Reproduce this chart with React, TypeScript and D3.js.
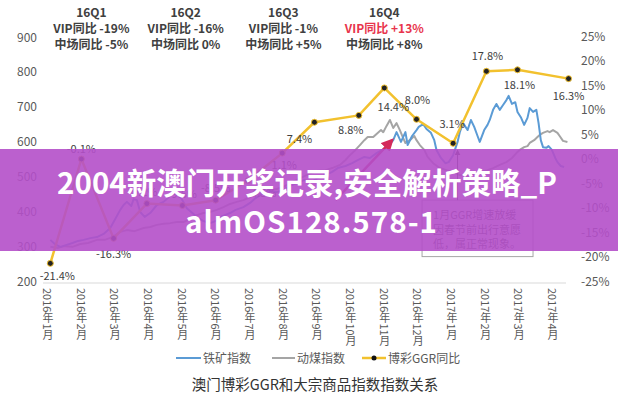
import React from "react";
import * as d3 from "d3";

// ---------- DATA ----------
const monthLabels = [
  "2016年1月", "2016年2月", "2016年3月", "2016年4月", "2016年5月", "2016年6月",
  "2016年7月", "2016年8月", "2016年9月", "2016年10月", "2016年11月", "2016年12月",
  "2017年1月", "2017年2月", "2017年3月", "2017年4月",
];
const leftTicks = [200, 300, 400, 500, 600, 700, 800, 900];
const rightTicks = [-25, -20, -15, -10, -5, 0, 5, 10, 15, 20, 25];

// 博彩GGR同比 (%), plotted at these dates
const ggrDates = [
  "2016-01-04", "2016-02-01", "2016-03-01", "2016-03-31", "2016-05-02", "2016-06-01",
  "2016-06-30", "2016-07-31", "2016-08-29", "2016-10-08", "2016-10-31", "2016-11-29",
  "2017-01-01", "2017-01-31", "2017-02-28", "2017-04-15",
];
const ggrValues = [-21.4, -0.1, -16.3, -9.2, -9.6, -8.5, -4.5, 1.1, 7.4, 8.8, 14.4, 8.0, 3.1, 17.8, 18.1, 16.3];

// 铁矿指数: [days since 2016-01-01, index]
const ironOre: [number, number][] = [
  [3,318],[7,306],[12,298],[17,303],[23,309],[28,315],[33,318],[39,323],[45,326],[51,335],
  [57,352],[61,375],[66,404],[69,418],[72,427],[76,415],[78,435],[81,432],[84,398],[88,384],
  [93,395],[99,418],[105,427],[111,444],[115,461],[118,452],[122,432],[126,409],[131,395],[136,381],
  [141,372],[147,366],[152,372],[158,386],[165,395],[170,404],[177,412],[183,424],[188,438],[195,452],
  [201,458],[207,455],[213,461],[219,473],[225,481],[232,490],[238,484],[244,495],[251,504],[257,513],
  [262,524],[269,530],[275,538],[280,547],[286,556],[291,553],[297,567],[302,576],[307,584],[312,604],
  [315,627],[319,599],[323,627],[325,590],[329,616],[333,633],[335,642],[339,650],[342,636],[346,625],
  [349,604],[351,576],[355,553],[359,538],[362,541],[366,561],[370,599],[372,627],[375,653],[379,633],
  [382,662],[385,642],[388,616],[390,599],[394,633],[397,648],[399,662],[402,691],[405,708],[408,691],
  [411,705],[414,719],[416,731],[419,708],[422,713],[424,685],[427,670],[430,648],[433,668],[435,696],
  [438,685],[441,691],[443,653],[445,604],[447,584],[450,582],[452,587],[455,576],[458,553],[460,541],
  [463,530],[466,527],
];

// 动煤指数: [days since 2016-01-01, index]
const coal: [number, number][] = [
  [3,298],[10,295],[16,300],[23,298],[30,306],[37,309],[45,318],[52,318],[59,326],[66,341],
  [72,346],[79,343],[87,352],[93,355],[99,361],[105,364],[111,366],[117,369],[123,369],[129,378],
  [135,389],[141,395],[147,398],[153,404],[159,412],[165,421],[171,427],[177,432],[183,441],[188,447],
  [195,455],[201,461],[207,464],[213,470],[219,481],[225,490],[232,501],[238,510],[244,516],[251,518],
  [257,524],[264,533],[269,547],[273,561],[278,576],[282,590],[286,604],[289,613],[294,613],[297,622],
  [301,633],[303,627],[306,645],[309,662],[312,639],[315,653],[318,633],[321,610],[323,596],[327,604],
  [331,616],[333,604],[336,590],[340,576],[343,556],[348,538],[354,524],[360,518],[366,513],[372,504],
  [379,501],[385,507],[390,513],[397,518],[402,524],[408,533],[414,541],[419,553],[423,567],[426,576],
  [430,584],[433,587],[435,596],[439,604],[442,613],[444,619],[447,625],[451,630],[453,627],[456,633],
  [460,625],[462,616],[465,602],[469,599],
];

const quarterNotes = [
  { q: "16Q1", vip: "VIP同比 -19%", mass: "中场同比 -5%", hot: false },
  { q: "16Q2", vip: "VIP同比 -16%", mass: "中场同比 0%", hot: false },
  { q: "16Q3", vip: "VIP同比 -1%", mass: "中场同比 +5%", hot: false },
  { q: "16Q4", vip: "VIP同比 +13%", mass: "中场同比 +8%", hot: true },
];
const quarterDates = ["2016-02-10", "2016-05-05", "2016-08-01", "2016-10-31"];

const noteLines = ["1月GGR增速放缓", "因春节前出行意愿", "低，属正常现象。"];
const bannerLines = ["2004新澳门开奖记录,安全解析策略_P", "almOS128.578-1"];
const legendItems = ["铁矿指数", "动煤指数", "博彩GGR同比"];
const title = "澳门博彩GGR和大宗商品指数指数关系";

// ---------- STYLE ----------
const W = 618, H = 400;
const BLUE = "#5b9bd5", GRAY = "#a5a5a5", GOLD = "#f2c12e";
const FONT = "'Noto Sans CJK SC', 'Noto Sans', sans-serif";
const TXT = "#404040";
// label offsets (dx, dy) for each GGR point label
const ggrLabelOffsets: [number, number][] = [
  [7, 17], [0, -6], [0, 20], [-4, -8], [0, -8], [0, -8], [14, 16], [2, 16],
  [-15, 21], [-8, 19], [9, 23], [1, -15], [-1, -15], [1, -11], [2, 19], [0, 21],
];

const parse = d3.timeParse("%Y-%m-%d");
const base = new Date(2016, 0, 1);
const dayDate = (d: number) => d3.timeDay.offset(base, d);

export default function App() {
  const x = d3.scaleTime().domain([new Date(2016, 0, 1), new Date(2017, 3, 1)]).range([47, 553]);
  const xLab = d3.scalePoint<string>().domain(monthLabels).range([48, 553]);
  const yL = d3.scaleLinear().domain([200, 900]).range([281, 37]);
  const yR = d3.scaleLinear().domain([-25, 25]).range([281, 36]);

  const idxLine = d3.line<[number, number]>().x((d) => x(dayDate(d[0]))).y((d) => yL(d[1]));
  const ggrPts = ggrDates.map((s, i) => ({ x: x(parse(s)!), y: yR(ggrValues[i]), v: ggrValues[i] }));
  const ggrLine = d3.line<{ x: number; y: number }>().x((d) => d.x).y((d) => d.y);

  const fmt = (v: number) => `${v.toFixed(1)}%`;

  // annotation geometry in data terms
  const arrowFrom = { x: x(dayDate(260)), y: yL(432) };
  const arrowTo = { x: x(dayDate(311)), y: yL(604) };
  const boxL = x(dayDate(338)), boxR = x(dayDate(438));
  const boxT = yL(432), boxB = yL(270);
  const ptrX = x(dayDate(370));

  return (
    <svg width={W} height={H} style={{ position: "absolute", left: 0, top: 0, background: "#fff" }} fontFamily={FONT}>
      <defs>
        <marker id="redHead" viewBox="0 0 10 10" refX="8" refY="5" markerWidth="5" markerHeight="5" orient="auto">
          <path d="M0,0 L10,5 L0,10 z" fill="#d42a5c" />
        </marker>
        <marker id="darkHead" viewBox="0 0 10 10" refX="8" refY="5" markerWidth="6" markerHeight="6" orient="auto">
          <path d="M0,0 L10,5 L0,10 z" fill="#333" />
        </marker>
      </defs>
      <rect width={W} height={H} fill="#fff" />

      {/* top quarter notes */}
      {quarterNotes.map((q, i) => {
        const cx = x(parse(quarterDates[i])!);
        return (
          <g key={q.q} textAnchor="middle" fontSize={12} fontWeight={600} fill={TXT}>
            <text x={cx} y={17}>{q.q}</text>
            <text x={cx} y={33} fill={q.hot ? "#e8344c" : TXT}>{q.vip}</text>
            <text x={cx} y={49}>{q.mass}</text>
          </g>
        );
      })}

      {/* left axis labels */}
      {leftTicks.map((t) => (
        <text key={t} x={37} y={yL(t) + 4.5} textAnchor="end" fontSize={12} fill="#595959">{t}</text>
      ))}
      {/* right axis labels */}
      {rightTicks.map((t) => (
        <text key={t} x={581} y={yR(t) + 4.5} textAnchor="start" fontSize={12} fill="#595959">{`${t}%`}</text>
      ))}

      {/* x axis */}
      <line x1={43} x2={566} y1={283} y2={283} stroke="#d9d9d9" strokeWidth={1} />
      {monthLabels.map((m) => (
        <text key={m} x={xLab(m)} y={288} fontSize={11} fill="#595959"
          style={{ writingMode: "vertical-rl", textOrientation: "mixed" } as any}>{m}</text>
      ))}

      {/* index lines */}
      <path d={idxLine(coal)!} fill="none" stroke={GRAY} strokeWidth={2} strokeLinejoin="round" />
      <path d={idxLine(ironOre)!} fill="none" stroke={BLUE} strokeWidth={2} strokeLinejoin="round" />

      {/* annotation box */}
      <rect x={boxL} y={boxT} width={boxR - boxL} height={boxB - boxT} fill="#fff" stroke="#a6a6a6" strokeWidth={1} />
      {noteLines.map((l, i) => (
        <text key={l} x={boxL + 11} y={boxT + 19 + i * 14.5} fontSize={11} fill="#595959">{l}</text>
      ))}
      <line x1={ptrX} x2={ptrX} y1={boxT} y2={yR(1.6)} stroke="#333" strokeWidth={1} markerEnd="url(#darkHead)" />

      {/* GGR line */}
      <path d={ggrLine(ggrPts)!} fill="none" stroke={GOLD} strokeWidth={2.5} strokeLinejoin="round" />
      {ggrPts.map((p, i) => (
        <circle key={i} cx={p.x} cy={p.y} r={3} fill="#222" stroke={GOLD} strokeWidth={1} />
      ))}
      {ggrPts.map((p, i) => (
        <text key={"l" + i} x={p.x + ggrLabelOffsets[i][0]} y={p.y + ggrLabelOffsets[i][1]} textAnchor="middle"
          fontSize={11} fill={TXT}>{fmt(p.v)}</text>
      ))}

      {/* red arrow */}
      <line x1={arrowFrom.x} y1={arrowFrom.y} x2={arrowTo.x} y2={arrowTo.y} stroke="#d42a5c" strokeWidth={2.5}
        markerEnd="url(#redHead)" />

      {/* legend */}
      <g fontSize={12} fill="#595959">
        <line x1={176} x2={201} y1={358} y2={358} stroke={BLUE} strokeWidth={2} />
        <text x={203} y={362.5}>{legendItems[0]}</text>
        <line x1={272} x2={295} y1={358} y2={358} stroke={GRAY} strokeWidth={2} />
        <text x={297} y={362.5}>{legendItems[1]}</text>
        <line x1={362} x2={386} y1={358} y2={358} stroke={GOLD} strokeWidth={2.5} />
        <circle cx={374} cy={358} r={2.5} fill="#111" />
        <text x={388} y={362.5}>{legendItems[2]}</text>
      </g>

      {/* title */}
      <text x={315} y={390} textAnchor="middle" fontSize={14.5} fill="#333">{title}</text>

      {/* overlay banner */}
      <rect x={0} y={149} width={W} height={102} fill="#b44fc9" opacity={0.9} />
      <text x={307} y={194} textAnchor="middle" fontSize={29.5} fontWeight={700} fill="#fff"
        textLength={500} lengthAdjust="spacing">{bannerLines[0]}</text>
      <text x={311} y={233} textAnchor="middle" fontSize={29.5} fontWeight={700} fill="#fff"
        textLength={252} lengthAdjust="spacing">{bannerLines[1]}</text>
    </svg>
  );
}
